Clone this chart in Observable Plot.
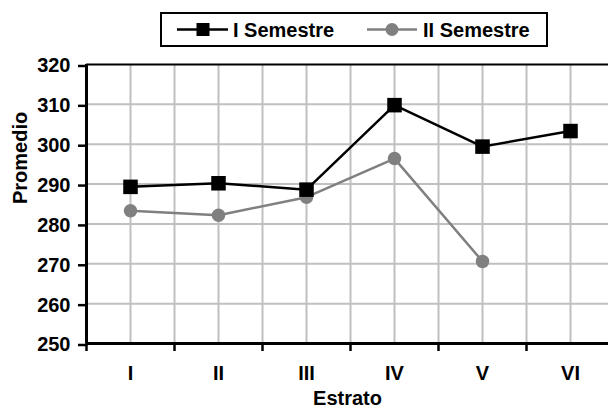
<!DOCTYPE html>
<html><head><meta charset="utf-8">
<script src="https://cdn.jsdelivr.net/npm/d3@7"></script>
<script src="https://cdn.jsdelivr.net/npm/@observablehq/plot@0.6"></script>
<style>
html,body{margin:0;padding:0;background:#fff;overflow:hidden;}
#wrap{width:608px;height:409px;overflow:hidden;position:relative;}
#legend{display:block;}
svg{display:block;}
</style>
</head><body>
<div id="wrap"></div>
<script>
const categories = ["I", "II", "III", "IV", "V", "VI"];
const seriesNames = ["I Semestre", "II Semestre"];
const sem1 = [289.3, 290.2, 288.6, 309.8, 299.4, 303.3];
const sem2 = [283.3, 282.2, 286.7, 296.4, 270.6, null];
const yTicks = [250, 260, 270, 280, 290, 300, 310, 320];
const yLabel = "Promedio";
const xLabel = "Estrato";

const FONT = "'Liberation Sans', Arial, sans-serif";
const wrap = document.getElementById("wrap");

// Legend (SVG above the chart)
const ns = "http://www.w3.org/2000/svg";
const leg = document.createElementNS(ns, "svg");
leg.setAttribute("id", "legend");
leg.setAttribute("width", 608);
leg.setAttribute("height", 50);
leg.innerHTML = `
  <rect x="161" y="13" width="386" height="33" fill="white" stroke="black" stroke-width="2"/>
  <line x1="177" x2="228" y1="29.5" y2="29.5" stroke="black" stroke-width="2.5"/>
  <rect x="196.5" y="23" width="13" height="13" fill="black"/>
  <text x="233" y="36.5" font-family="${FONT}" font-weight="bold" font-size="20" fill="black">${seriesNames[0]}</text>
  <line x1="367" x2="417" y1="29.5" y2="29.5" stroke="#808080" stroke-width="2.5"/>
  <circle cx="392" cy="29.5" r="6.5" fill="#808080"/>
  <text x="423" y="36.5" font-family="${FONT}" font-weight="bold" font-size="20" fill="black">${seriesNames[1]}</text>
`;
wrap.appendChild(leg);

const pos = categories.map((c, i) => i + 0.5);
const rows1 = categories.map((c, i) => ({x: pos[i], v: sem1[i]}));
const rows2 = categories.map((c, i) => ({x: pos[i], v: sem2[i]})).filter(d => d.v != null);
const gridX = d3.range(1, 12).map(k => k / 2);
const gridY = yTicks.slice(1, -1);
const boundaries = d3.range(0, categories.length + 1);

const chart = Plot.plot({
  width: 608,
  height: 359,
  marginLeft: 86,
  marginRight: 0,
  marginTop: 14,
  marginBottom: 66,
  style: {fontFamily: FONT, fontSize: "20px", fontWeight: "bold", color: "black", background: "white"},
  x: {type: "linear", domain: [0, categories.length], range: [86, 614]},
  y: {domain: [250, 320]},
  marks: [
    Plot.ruleX(gridX, {stroke: "#c0c0c0", strokeWidth: 2}),
    Plot.ruleY(gridY, {stroke: "#c0c0c0", strokeWidth: 2}),
    Plot.ruleY([320], {stroke: "black", strokeWidth: 2}),
    Plot.axisY({ticks: yTicks, tickSize: 8, tickPadding: 8, strokeWidth: 2.5, dy: 1.5, label: null}),
    Plot.axisX({ticks: boundaries, tickSize: 8, strokeWidth: 2.5, tickFormat: () => "", label: null}),
    Plot.axisX({ticks: pos, tickSize: 0, tickPadding: 22, tickFormat: d => categories[Math.round(d - 0.5)], label: null}),
    Plot.text([yLabel], {text: d => d, frameAnchor: "left", dx: -66, rotate: -90, lineAnchor: "middle", fontSize: 20, fontWeight: "bold"}),
    Plot.text([xLabel], {text: d => d, frameAnchor: "bottom", dy: 55.5, lineAnchor: "middle", fontSize: 20, fontWeight: "bold"}),
    Plot.ruleX([0], {stroke: "black", strokeWidth: 3}),
    Plot.ruleY([250], {stroke: "black", strokeWidth: 3}),
    Plot.line(rows2, {x: "x", y: "v", stroke: "#808080", strokeWidth: 2.5}),
    Plot.line(rows1, {x: "x", y: "v", stroke: "black", strokeWidth: 2.5}),
    Plot.dot(rows2, {x: "x", y: "v", r: 6.75, fill: "#808080", stroke: "none"}),
    Plot.dot(rows1, {x: "x", y: "v", r: 8.2, symbol: "square", fill: "black", stroke: "none"})
  ]
});
wrap.appendChild(chart);
</script>
</body></html>
